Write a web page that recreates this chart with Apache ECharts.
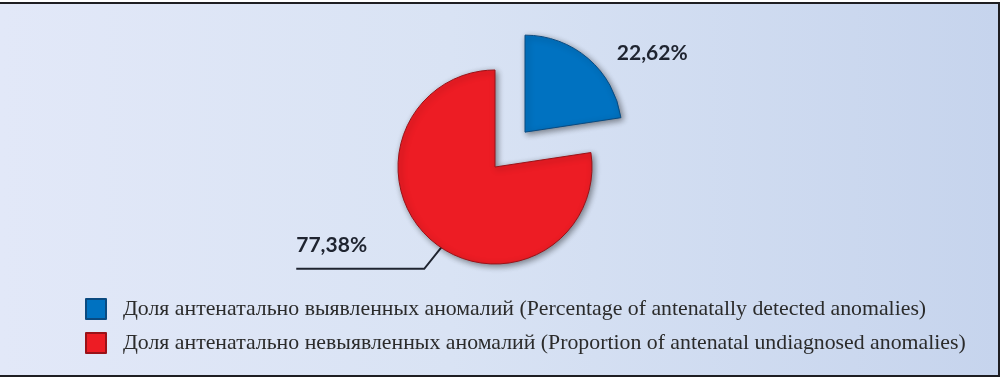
<!DOCTYPE html>
<html>
<head>
<meta charset="utf-8">
<script src="https://cdn.jsdelivr.net/npm/echarts@6/dist/echarts.min.js"></script>
<style>
  html, body { margin: 0; padding: 0; background: #fff; }
  #bg {
    position: absolute; left: 0; top: 4px; width: 999px; height: 371px;
    background: linear-gradient(to right, #e2e8f8 0%, #d9e3f4 45%, #c6d4ed 100%);
  }
  #frame {
    position: absolute; left: 0; top: 2px; width: 998px; height: 371px;
    border-top: 2px solid #1e1e22; border-right: 2px solid #1e1e22; border-bottom: 2px solid #1e1e22;
    pointer-events: none; z-index: 5;
  }
  #chart { position: absolute; left: 0; top: 0; width: 1002px; height: 377px; }
</style>
</head>
<body>
<div id="bg"></div>
<div id="chart"></div>
<div id="frame"></div>
<script>
// данные диаграммы
const names = [
    'Доля антенатально выявленных аномалий (Percentage of antenatally detected anomalies)',
    'Доля антенатально невыявленных аномалий (Proportion of antenatal undiagnosed anomalies)'
];
const values = [22.62, 77.38];
const colors = ['#0072c1', '#ed1c24'];
const borders = ['#0a4a80', '#9a1218'];

let chart = echarts.init(document.getElementById('chart'));

const option = {
    backgroundColor: 'transparent',
    animation: false,
    legend: {
        orient: 'vertical',
        left: 80,
        top: 293,
        itemWidth: 20,
        itemHeight: 20,
        itemGap: 12,
        icon: 'rect',
        selectedMode: false,
        data: names,
        textStyle: {
            fontFamily: 'Liberation Serif',
            fontSize: 21.8,
            lineHeight: 22,
            color: '#2b2b2b',
            padding: [0, 0, 0, 12]
        }
    },
    series: [
        {
            type: 'pie',
            center: [495, 167],
            radius: 97,
            startAngle: 90,
            clockwise: true,
            selectedMode: true,
            selectedOffset: 46,
            silent: true,
            emphasis: { disabled: true },
            itemStyle: {
                borderWidth: 1,
                shadowBlur: 6,
                shadowOffsetX: 2,
                shadowOffsetY: 2,
                shadowColor: 'rgba(0,0,0,0.45)'
            },
            label: {
                show: true,
                position: 'outside',
                alignTo: 'none',
                fontFamily: 'Lato',
                fontWeight: 'bold',
                fontSize: 21,
                color: '#1f2430',
                formatter: function (p) {
                    return p.value.toFixed(2).replace('.', ',') + '%';
                }
            },
            labelLine: {
                show: true,
                lineStyle: { color: '#1f2430', width: 2 }
            },
            labelLayout: function (params) {
                if (params.dataIndex !== 1 || !params.labelLinePoints) {
                    return {};
                }
                const pts = params.labelLinePoints;
                // линия начинается внутри сектора
                const dx = pts[1][0] - pts[0][0];
                const dy = pts[1][1] - pts[0][1];
                const len = Math.sqrt(dx * dx + dy * dy) || 1;
                const start = [pts[0][0] - dx / len * 22 + 14, pts[0][1] - dy / len * 22];
                const corner = [pts[1][0] + 16, pts[1][1] + 1];
                const end = [pts[2][0], pts[2][1] + 1];
                return {
                    x: end[0],
                    y: end[1] - 13,
                    align: 'left',
                    verticalAlign: 'bottom',
                    labelLinePoints: [start, corner, end]
                };
            },
            data: names.map((n, i) => ({
                name: n,
                value: values[i],
                selected: i === 0,
                itemStyle: { color: colors[i], borderColor: borders[i] },
                labelLine: i === 0
                    ? { show: false, length: 7, length2: 19 }
                    : { show: true, length: 36, length2: 112 }
            }))
        }
    ]
};

chart.setOption(option);
</script>
</body>
</html>
